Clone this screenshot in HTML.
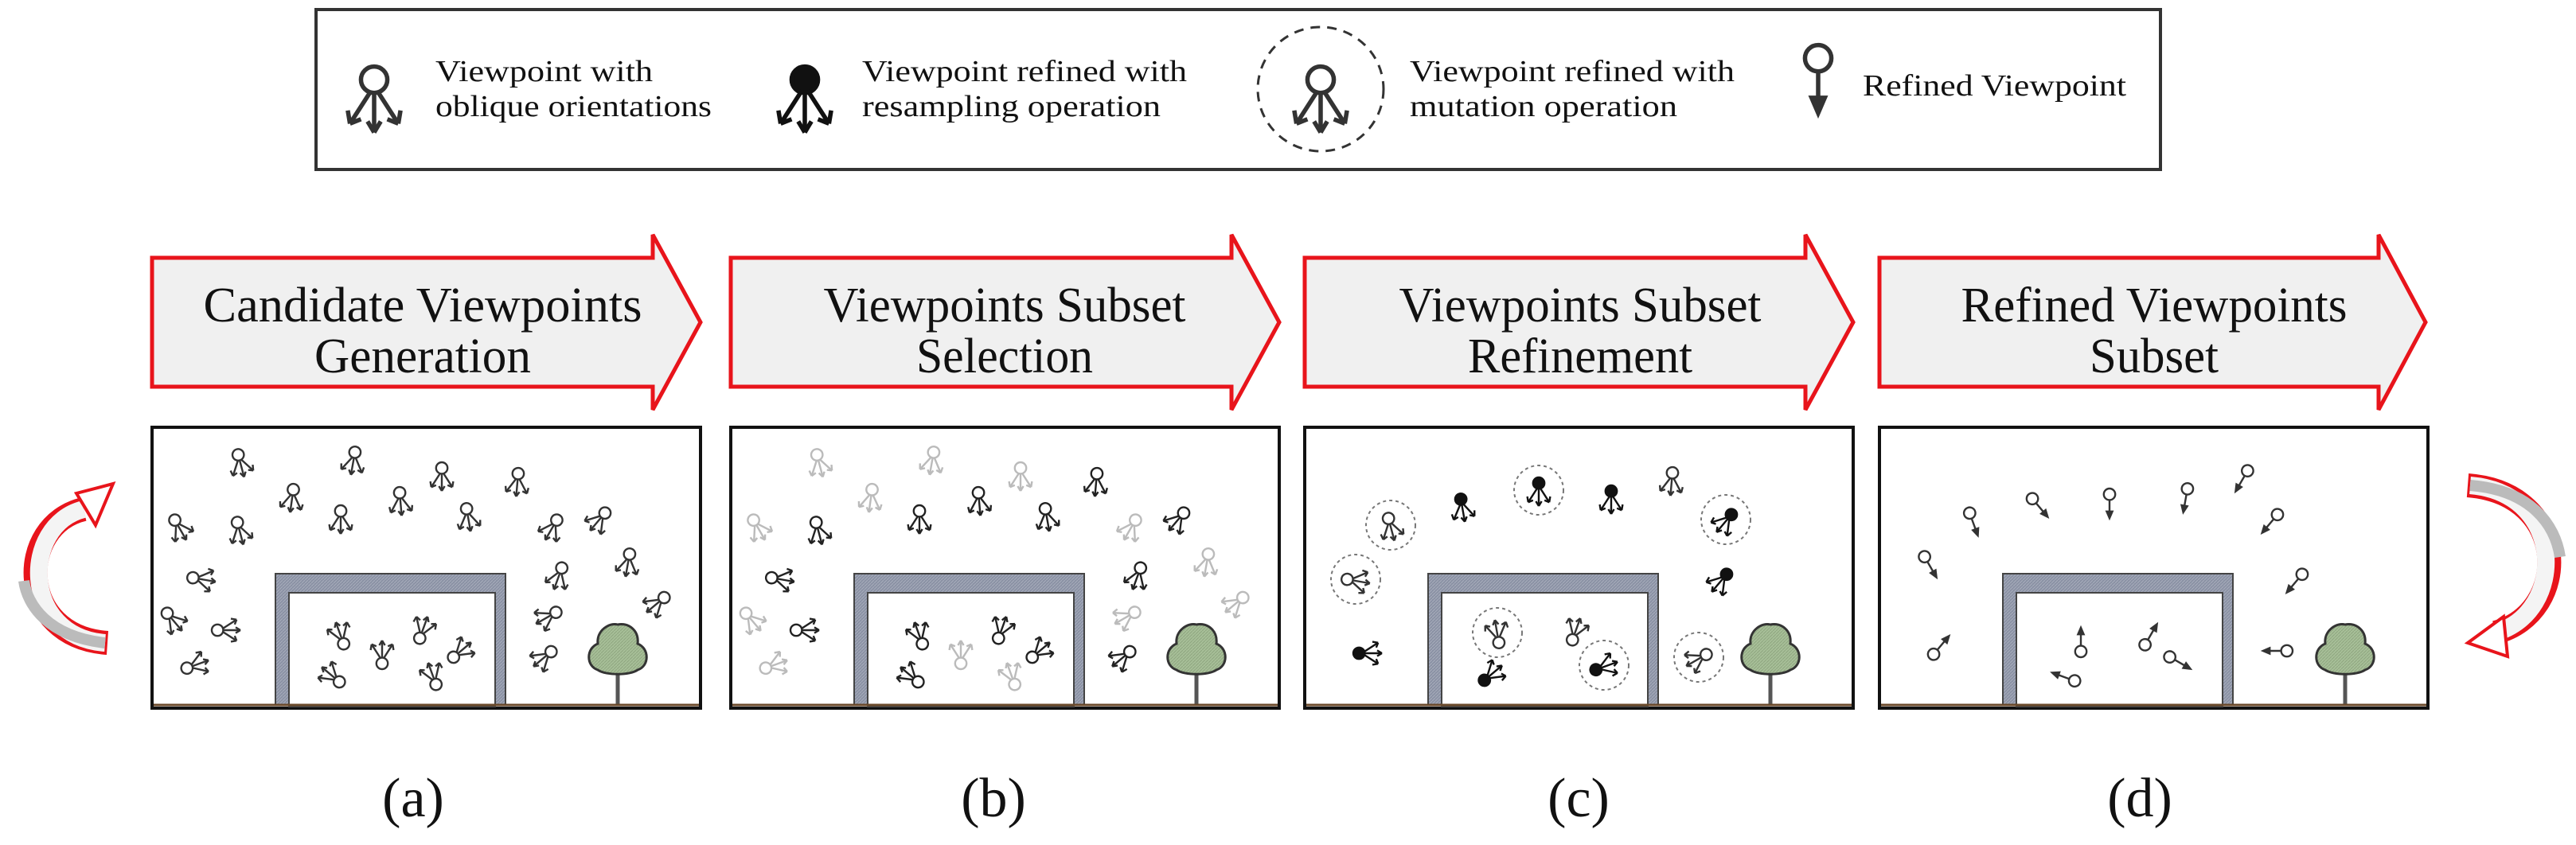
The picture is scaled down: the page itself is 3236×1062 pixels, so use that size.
<!DOCTYPE html>
<html><head><meta charset="utf-8"><style>html,body{margin:0;padding:0;background:#fff}svg{display:block}</style></head>
<body>
<svg width="3236" height="1062" viewBox="0 0 3236 1062" xmlns="http://www.w3.org/2000/svg">
<defs>
<g id="vp" fill="none" stroke="currentColor" stroke-width="2" transform="scale(1.2)">
<circle cx="0" cy="-9" r="6" fill="#fff"/>
<path d="M-2,-3 L-11,11 M0,-3 L0,15 M2,-3 L11,11"/>
<path d="M-11,11 l-1,-6 M-11,11 l5,-2 M0,15 l-3,-5 M0,15 l3,-5 M11,11 l1,-6 M11,11 l-5,-2"/>
</g>
<g id="vpb" fill="none" stroke="currentColor" stroke-width="2" transform="scale(1.2)">
<circle cx="0" cy="-9" r="6" fill="currentColor"/>
<path d="M-2,-3 L-11,11 M0,-3 L0,15 M2,-3 L11,11"/>
<path d="M-11,11 l-1,-6 M-11,11 l5,-2 M0,15 l-3,-5 M0,15 l3,-5 M11,11 l1,-6 M11,11 l-5,-2"/>
</g>
<g id="vpr" fill="none" stroke="#333" stroke-width="2" transform="scale(1.2)">
<circle cx="0" cy="-9" r="6" fill="#fff"/>
<path d="M0,-3 L0,13"/>
<path d="M-3,9 L0,16 L3,9 Z" fill="#333"/>
</g>
<pattern id="hat" width="4" height="4" patternUnits="userSpaceOnUse"><rect width="4" height="4" fill="#8a91a4"/><path d="M0,4 L4,0" stroke="#a8aebc" stroke-width="1"/></pattern>
<pattern id="tr" width="4" height="4" patternUnits="userSpaceOnUse"><rect width="4" height="4" fill="#a7bf98"/><path d="M0,4 L4,0" stroke="#8ea57f" stroke-width="1"/></pattern>
<g id="scene">
<rect x="0" y="0" width="689" height="353" fill="#fff" stroke="#111" stroke-width="4"/>
<rect x="155" y="184" width="289" height="165" fill="url(#hat)" stroke="#444" stroke-width="2"/>
<rect x="172" y="208" width="259" height="143" fill="#fff" stroke="#444" stroke-width="2"/>
<line x1="585" y1="300" x2="585" y2="349" stroke="#555" stroke-width="5"/>
<path d="M560,305 C545,300 545,278 560,272 C558,255 575,245 585,248 C598,245 612,255 610,272 C625,278 625,300 610,305 C600,312 570,312 560,305 Z" fill="url(#tr)" stroke="#333" stroke-width="3"/>
<line x1="2" y1="349" x2="687" y2="349" stroke="#6b4a2b" stroke-width="3"/>
</g>
</defs>

<rect x="397" y="12" width="2317" height="201" fill="#fff" stroke="#333" stroke-width="4"/>
<g font-family="Liberation Serif, serif" font-size="38" fill="#111">
<use href="#vp" transform="translate(470,125) scale(2.3)" color="#333"/>
<text x="547" y="102" textLength="273" lengthAdjust="spacingAndGlyphs">Viewpoint with</text>
<text x="547" y="146" textLength="347" lengthAdjust="spacingAndGlyphs">oblique orientations</text>
<use href="#vpb" transform="translate(1011,125) scale(2.3)" color="#111"/>
<text x="1083" y="102" textLength="408" lengthAdjust="spacingAndGlyphs">Viewpoint refined with</text>
<text x="1083" y="146" textLength="375" lengthAdjust="spacingAndGlyphs">resampling operation</text>
<ellipse cx="1659" cy="112" rx="79" ry="78" fill="none" stroke="#333" stroke-width="3" stroke-dasharray="12,9"/>
<use href="#vp" transform="translate(1659,125) scale(2.3)" color="#333"/>
<text x="1771" y="102" textLength="408" lengthAdjust="spacingAndGlyphs">Viewpoint refined with</text>
<text x="1771" y="146" textLength="336" lengthAdjust="spacingAndGlyphs">mutation operation</text>
<use href="#vpr" transform="translate(2284,98) scale(2.3)"/>
<text x="2340" y="120" textLength="331" lengthAdjust="spacingAndGlyphs">Refined Viewpoint</text>
</g>

<g fill="#f0f0f0" stroke="#e8141b" stroke-width="5" stroke-linejoin="miter">
<polygon points="191,324 820,324 820,295 880,405 820,515 820,486 191,486"/>
<polygon points="918,324 1547,324 1547,295 1607,405 1547,515 1547,486 918,486"/>
<polygon points="1639,324 2268,324 2268,295 2328,405 2268,515 2268,486 1639,486"/>
<polygon points="2361,324 2988,324 2988,295 3047,405 2988,515 2988,486 2361,486"/>
</g>
<g font-family="Liberation Serif, serif" font-size="62" fill="#111" text-anchor="middle">
<text x="531" y="404" textLength="551" lengthAdjust="spacingAndGlyphs">Candidate Viewpoints</text>
<text x="531" y="468" textLength="272" lengthAdjust="spacingAndGlyphs">Generation</text>
<text x="1262" y="404" textLength="455" lengthAdjust="spacingAndGlyphs">Viewpoints Subset</text>
<text x="1262" y="468" textLength="222" lengthAdjust="spacingAndGlyphs">Selection</text>
<text x="1985" y="404" textLength="455" lengthAdjust="spacingAndGlyphs">Viewpoints Subset</text>
<text x="1985" y="468" textLength="282" lengthAdjust="spacingAndGlyphs">Refinement</text>
<text x="2706" y="404" textLength="485" lengthAdjust="spacingAndGlyphs">Refined Viewpoints</text>
<text x="2706" y="468" textLength="162" lengthAdjust="spacingAndGlyphs">Subset</text>
</g>

<use href="#scene" transform="translate(191,537)"/>
<use href="#scene" transform="translate(918,537)"/>
<use href="#scene" transform="translate(1639,537)"/>
<use href="#scene" transform="translate(2361,537)"/>

<g color="#333">
<use href="#vp" transform="translate(302,582) rotate(-15)"/>
<use href="#vp" transform="translate(444,579) rotate(10)"/>
<use href="#vp" transform="translate(555,599)"/>
<use href="#vp" transform="translate(650,606) rotate(5)"/>
<use href="#vp" transform="translate(367,626) rotate(8)"/>
<use href="#vp" transform="translate(503,630) rotate(-5)"/>
<use href="#vp" transform="translate(225,663) rotate(-30)"/>
<use href="#vp" transform="translate(301,667) rotate(-15)"/>
<use href="#vp" transform="translate(428,653)"/>
<use href="#vp" transform="translate(588,650) rotate(-10)"/>
<use href="#vp" transform="translate(694,663) rotate(30)"/>
<use href="#vp" transform="translate(753,653) rotate(40)"/>
<use href="#vp" transform="translate(253,728) rotate(-80)"/>
<use href="#vp" transform="translate(702,724) rotate(20)"/>
<use href="#vp" transform="translate(789,707) rotate(10)"/>
<use href="#vp" transform="translate(217,779) rotate(-40)"/>
<use href="#vp" transform="translate(284,792) rotate(-90)"/>
<use href="#vp" transform="translate(689,775) rotate(60)"/>
<use href="#vp" transform="translate(826,758) rotate(50)"/>
<use href="#vp" transform="translate(245,836) rotate(-110)"/>
<use href="#vp" transform="translate(684,826) rotate(50)"/>
<use href="#vp" transform="translate(428,799) rotate(160)"/>
<use href="#vp" transform="translate(480,823) rotate(180)"/>
<use href="#vp" transform="translate(531,792) rotate(200)"/>
<use href="#vp" transform="translate(578,819) rotate(-130)"/>
<use href="#vp" transform="translate(418,850) rotate(130)"/>
<use href="#vp" transform="translate(544,850) rotate(160)"/>
</g>
<g>
<use href="#vp" color="#bbb" transform="translate(1029,582) rotate(-15)"/>
<use href="#vp" color="#bbb" transform="translate(1171,579) rotate(10)"/>
<use href="#vp" color="#bbb" transform="translate(1282,599)"/>
<use href="#vp" color="#222" transform="translate(1377,606) rotate(5)"/>
<use href="#vp" color="#bbb" transform="translate(1094,626) rotate(8)"/>
<use href="#vp" color="#222" transform="translate(1230,630) rotate(-5)"/>
<use href="#vp" color="#bbb" transform="translate(952,663) rotate(-30)"/>
<use href="#vp" color="#222" transform="translate(1028,667) rotate(-15)"/>
<use href="#vp" color="#222" transform="translate(1155,653)"/>
<use href="#vp" color="#222" transform="translate(1315,650) rotate(-10)"/>
<use href="#vp" color="#bbb" transform="translate(1421,663) rotate(30)"/>
<use href="#vp" color="#222" transform="translate(1480,653) rotate(40)"/>
<use href="#vp" color="#222" transform="translate(980,728) rotate(-80)"/>
<use href="#vp" color="#222" transform="translate(1429,724) rotate(20)"/>
<use href="#vp" color="#bbb" transform="translate(1516,707) rotate(10)"/>
<use href="#vp" color="#bbb" transform="translate(944,779) rotate(-40)"/>
<use href="#vp" color="#222" transform="translate(1011,792) rotate(-90)"/>
<use href="#vp" color="#bbb" transform="translate(1416,775) rotate(60)"/>
<use href="#vp" color="#bbb" transform="translate(1553,758) rotate(50)"/>
<use href="#vp" color="#bbb" transform="translate(972,836) rotate(-110)"/>
<use href="#vp" color="#222" transform="translate(1411,826) rotate(50)"/>
<use href="#vp" color="#222" transform="translate(1155,799) rotate(160)"/>
<use href="#vp" color="#bbb" transform="translate(1207,823) rotate(180)"/>
<use href="#vp" color="#222" transform="translate(1258,792) rotate(200)"/>
<use href="#vp" color="#222" transform="translate(1305,819) rotate(-130)"/>
<use href="#vp" color="#222" transform="translate(1145,850) rotate(130)"/>
<use href="#vp" color="#bbb" transform="translate(1271,850) rotate(160)"/>
</g>
<g fill="none" stroke="#777" stroke-width="2" stroke-dasharray="4,4">
<circle cx="1747" cy="660" r="31"/><circle cx="1933" cy="616" r="31"/><circle cx="2168" cy="653" r="31"/>
<circle cx="1703" cy="728" r="31"/><circle cx="1881" cy="795" r="31"/><circle cx="2015" cy="836" r="31"/><circle cx="2134" cy="826" r="31"/>
</g>
<g>
<use href="#vp" color="#333" transform="translate(1747,662) rotate(-15)"/>
<use href="#vpb" color="#111" transform="translate(1933,618)"/>
<use href="#vpb" color="#111" transform="translate(2168,655) rotate(40)"/>
<use href="#vp" color="#333" transform="translate(1703,730) rotate(-80)"/>
<use href="#vp" color="#333" transform="translate(1881,797) rotate(170)"/>
<use href="#vpb" color="#111" transform="translate(2015,838) rotate(-110)"/>
<use href="#vp" color="#333" transform="translate(2134,828) rotate(60)"/>
<use href="#vpb" color="#111" transform="translate(1837,638) rotate(-10)"/>
<use href="#vpb" color="#111" transform="translate(2024,628)"/>
<use href="#vpb" color="#111" transform="translate(2162,730) rotate(40)"/>
<use href="#vpb" color="#111" transform="translate(1718,821) rotate(-90)"/>
<use href="#vpb" color="#111" transform="translate(1873,848) rotate(-130)"/>
<use href="#vp" color="#333" transform="translate(2100,605) rotate(5)"/>
<use href="#vp" color="#333" transform="translate(1979,794) rotate(200)"/>
</g>
<g>
<use href="#vpr" transform="translate(2478,655) rotate(-20)"/>
<use href="#vpr" transform="translate(2560,635) rotate(-40)"/>
<use href="#vpr" transform="translate(2650,632)"/>
<use href="#vpr" transform="translate(2746,625) rotate(10)"/>
<use href="#vpr" transform="translate(2818,601) rotate(30)"/>
<use href="#vpr" transform="translate(2854,655) rotate(40)"/>
<use href="#vpr" transform="translate(2423,709) rotate(-30)"/>
<use href="#vpr" transform="translate(2885,730) rotate(40)"/>
<use href="#vpr" transform="translate(2436,814) rotate(-140)"/>
<use href="#vpr" transform="translate(2614,808) rotate(180)"/>
<use href="#vpr" transform="translate(2700,801) rotate(-150)"/>
<use href="#vpr" transform="translate(2735,831) rotate(-60)"/>
<use href="#vpr" transform="translate(2596,852) rotate(110)"/>
<use href="#vpr" transform="translate(2862,818) rotate(90)"/>
</g>

<path d="M135,808 C20,800 20,660 105,640" fill="none" stroke="#e8141b" stroke-width="30"/>
<path d="M132,808 C26,800 26,660 105,640" fill="none" stroke="#f4f4f4" stroke-width="22"/>
<path d="M132,808 C60,800 34,760 30,730" fill="none" stroke="#bbb" stroke-width="14"/>
<polygon points="96,620 142,608 120,660" fill="#fff" stroke="#e8141b" stroke-width="4"/>
<path d="M3100,610 C3230,620 3230,770 3135,795" fill="none" stroke="#e8141b" stroke-width="30"/>
<path d="M3103,610 C3224,620 3224,770 3135,795" fill="none" stroke="#f4f4f4" stroke-width="22"/>
<path d="M3103,610 C3180,616 3210,660 3216,700" fill="none" stroke="#bbb" stroke-width="14"/>
<polygon points="3145,775 3100,808 3150,825" fill="#fff" stroke="#e8141b" stroke-width="4"/>

<g font-family="Liberation Serif, serif" font-size="70" fill="#111" text-anchor="middle">
<text x="519" y="1026">(a)</text>
<text x="1248" y="1026">(b)</text>
<text x="1983" y="1026">(c)</text>
<text x="2688" y="1026">(d)</text>
</g>
</svg>
</body></html>
